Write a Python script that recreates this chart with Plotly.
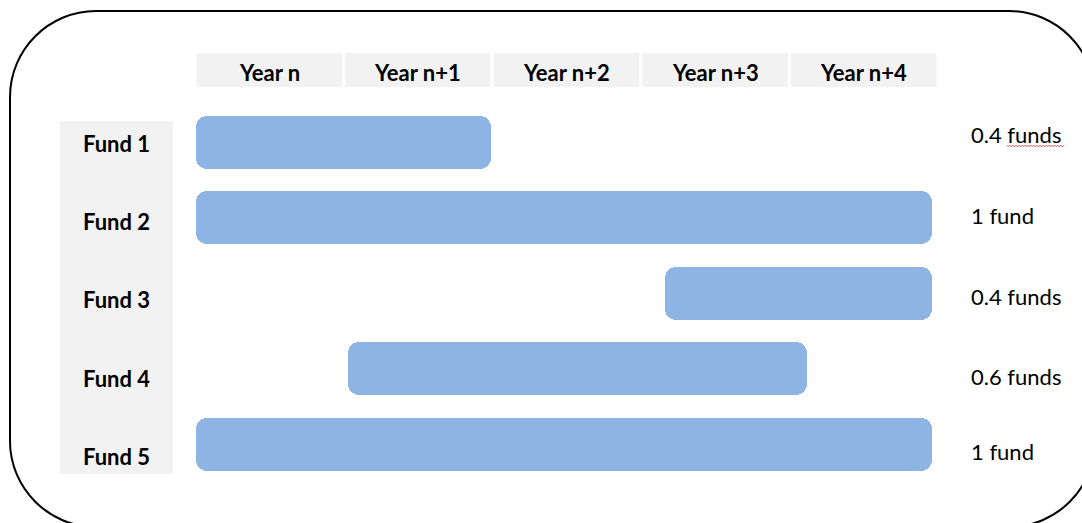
import plotly.graph_objects as go

# ---- data -------------------------------------------------------------
years = ["Year n", "Year n+1", "Year n+2", "Year n+3", "Year n+4"]
funds = ["Fund 1", "Fund 2", "Fund 3", "Fund 4", "Fund 5"]
start_year = [0.01, 0.01, 3.16, 1.03, 0.01]   # bar start, in years from Year n
end_year = [1.99, 4.96, 4.96, 4.12, 4.96]     # bar end, in years from Year n
fund_share = ["0.4 funds", "1 fund", "0.4 funds", "0.6 funds", "1 fund"]

# ---- layout constants (pixels) ---------------------------------------
W, H = 1082, 523
COL_X0, COL_W = 195, 148.6          # left edge of Year n column, column width
ROW_Y0, ROW_H = 142.2, 75.55        # centre of Fund 1 row, row pitch
BAR_PX = 53                         # bar thickness
BLUE = "#8EB4E3"
GREY = "#F2F2F2"
FONT = "Lato"


def fx(px):
    return px / W


def fy(py):
    return 1 - py / H


fig = go.Figure()

rows = list(range(len(funds)))
fig.add_trace(go.Bar(
    y=rows,
    x=[e - s for s, e in zip(start_year, end_year)],
    base=start_year,
    orientation="h",
    width=BAR_PX / ROW_H,
    marker=dict(color=BLUE, cornerradius=11, line=dict(width=0)),
    hoverinfo="skip",
    showlegend=False,
))

shapes = []

# outer rounded frame
x0, x1, y0, y1, r = 10, 1095, 11, 527, 86
path = (
    f"M {fx(x0 + r)},{fy(y0)} L {fx(x1 - r)},{fy(y0)} "
    f"C {fx(x1 - r * 0.45)},{fy(y0)} {fx(x1)},{fy(y0 + r * 0.45)} {fx(x1)},{fy(y0 + r)} "
    f"L {fx(x1)},{fy(y1 - r)} "
    f"C {fx(x1)},{fy(y1 - r * 0.45)} {fx(x1 - r * 0.45)},{fy(y1)} {fx(x1 - r)},{fy(y1)} "
    f"L {fx(x0 + r)},{fy(y1)} "
    f"C {fx(x0 + r * 0.45)},{fy(y1)} {fx(x0)},{fy(y1 - r * 0.45)} {fx(x0)},{fy(y1 - r)} "
    f"L {fx(x0)},{fy(y0 + r)} "
    f"C {fx(x0)},{fy(y0 + r * 0.45)} {fx(x0 + r * 0.45)},{fy(y0)} {fx(x0 + r)},{fy(y0)} Z"
)
shapes.append(dict(type="path", xref="paper", yref="paper", path=path,
                   line=dict(color="black", width=2), fillcolor="rgba(0,0,0,0)",
                   layer="below"))

# grey header cells for the years
gap = 1.5 / COL_W
for i, _ in enumerate(years):
    shapes.append(dict(type="rect", xref="x", yref="paper",
                       x0=i + gap, x1=i + 1 - gap, y0=fy(87), y1=fy(53),
                       fillcolor=GREY, line=dict(width=0), layer="below"))

# grey column behind the fund names
shapes.append(dict(type="rect", xref="paper", yref="paper",
                   x0=fx(60), x1=fx(173), y0=fy(474), y1=fy(121),
                   fillcolor=GREY, line=dict(width=0), layer="below"))

# wavy red underline beneath the first "funds"
wx, wy, pts = 1007, 146, []
k = 0
while wx <= 1064:
    pts.append(f"{fx(wx)},{fy(wy + (0.9 if k % 2 else -0.9))}")
    wx += 1.5
    k += 1
shapes.append(dict(type="path", xref="paper", yref="paper",
                   path="M " + " L ".join(pts),
                   line=dict(color="#E04040", width=0.8)))

annotations = []
for i, label in enumerate(years):
    annotations.append(dict(x=i + 0.5, y=fy(73), xref="x", yref="paper",
                            text=label, showarrow=False,
                            font=dict(family=FONT, size=22, color="black", weight="bold"),
                            xanchor="center", yanchor="middle"))

fund_label_y = [143, 221, 299, 378, 456]
for label, py in zip(funds, fund_label_y):
    annotations.append(dict(x=fx(116), y=fy(py), xref="paper", yref="paper",
                            text=label, showarrow=False,
                            font=dict(family=FONT, size=22, color="black", weight="bold"),
                            xanchor="center", yanchor="middle"))

share_label_y = [135, 215, 296, 376, 451]
for label, py in zip(fund_share, share_label_y):
    annotations.append(dict(x=fx(969), y=fy(py), xref="paper", yref="paper",
                            text=label, showarrow=False,
                            font=dict(family=FONT, size=22, color="black"),
                            xanchor="left", yanchor="middle"))

fig.update_layout(
    width=W, height=H,
    margin=dict(l=0, r=0, t=0, b=0),
    paper_bgcolor="white", plot_bgcolor="rgba(0,0,0,0)",
    shapes=shapes, annotations=annotations,
    xaxis=dict(range=[-COL_X0 / COL_W, (W - COL_X0) / COL_W], visible=False,
               fixedrange=True),
    yaxis=dict(range=[(H - ROW_Y0) / ROW_H, -ROW_Y0 / ROW_H], visible=False,
               fixedrange=True),
    bargap=0,
)

fig.write_html("out.html")
